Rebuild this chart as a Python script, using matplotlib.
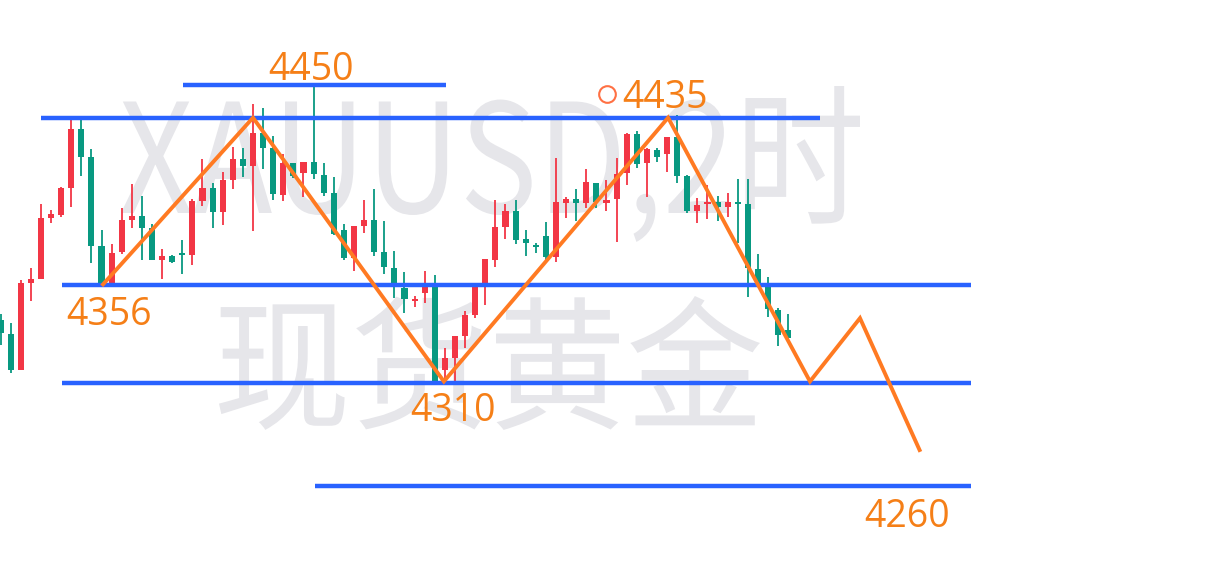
import matplotlib
matplotlib.use("Agg")
import matplotlib.pyplot as plt
import numpy as np
from matplotlib.textpath import TextPath
from matplotlib.font_manager import FontProperties
from matplotlib.patches import PathPatch
from matplotlib.transforms import Affine2D

# ---- data ----
opens = [4338.6, 4332.0, 4314.9, 4356.2, 4358.1, 4387.0, 4388.4, 4401.2, 4429.1, 4415.9,
         4373.7, 4356.2, 4370.9, 4386.0, 4387.9, 4382.2, 4367.1, 4369.0, 4370.4, 4369.4,
         4395.0, 4401.2, 4389.8, 4405.0, 4414.9, 4411.6, 4427.3, 4420.1, 4397.9, 4413.0,
         4408.3, 4413.5, 4407.3, 4398.8, 4381.3, 4368.0, 4383.2, 4386.0, 4370.9, 4363.3,
         4353.8, 4347.6, 4351.4, 4354.3, 4314.9, 4320.6, 4331.1, 4341.0, 4355.7, 4367.1,
         4382.7, 4390.3, 4377.0, 4374.2, 4378.4, 4368.5, 4394.1, 4396.0, 4394.1, 4403.6,
         4394.1, 4396.0, 4408.3, 4426.8, 4413.0, 4419.2, 4417.3, 4425.4, 4406.9, 4390.3,
         4393.6, 4394.6, 4392.2, 4394.6, 4393.6, 4362.8, 4354.3, 4343.4, 4333.9]
highs = [4341.5, 4337.2, 4357.6, 4363.3, 4393.6, 4390.8, 4401.7, 4433.4, 4433.4, 4419.7,
         4381.3, 4374.6, 4391.7, 4403.1, 4397.4, 4384.1, 4372.3, 4369.4, 4376.5, 4396.0,
         4414.9, 4403.6, 4408.8, 4420.6, 4420.1, 4441.0, 4439.1, 4425.8, 4417.3, 4413.0,
         4413.5, 4449.5, 4413.0, 4406.4, 4384.1, 4383.2, 4395.5, 4400.7, 4385.5, 4371.3,
         4361.4, 4350.0, 4361.9, 4360.0, 4325.4, 4331.1, 4342.9, 4354.7, 4367.5, 4395.5,
         4393.6, 4395.5, 4381.3, 4375.1, 4385.1, 4415.4, 4396.9, 4400.7, 4410.2, 4403.6,
         4405.0, 4415.4, 4427.3, 4428.2, 4420.1, 4420.1, 4425.4, 4435.8, 4407.3, 4396.4,
         4402.6, 4397.4, 4398.8, 4405.5, 4405.5, 4369.9, 4359.0, 4344.3, 4341.5]
lows = [4326.8, 4313.5, 4314.9, 4347.6, 4358.1, 4384.6, 4387.4, 4392.2, 4406.9, 4365.6,
        4356.2, 4356.2, 4369.9, 4382.2, 4367.1, 4367.1, 4358.1, 4365.6, 4360.4, 4364.7,
        4392.7, 4382.2, 4383.6, 4400.7, 4406.4, 4380.8, 4410.2, 4395.5, 4395.0, 4405.9,
        4396.9, 4405.5, 4397.4, 4378.9, 4367.1, 4361.9, 4379.9, 4369.0, 4360.4, 4349.1,
        4341.9, 4344.8, 4346.7, 4309.2, 4308.8, 4308.8, 4325.4, 4339.6, 4345.7, 4363.7,
        4377.0, 4374.6, 4369.0, 4370.4, 4367.1, 4366.1, 4387.0, 4385.5, 4391.7, 4391.7,
        4390.3, 4375.6, 4402.6, 4410.7, 4396.9, 4413.5, 4408.8, 4403.6, 4389.3, 4384.6,
        4386.5, 4385.5, 4387.4, 4375.1, 4349.5, 4355.7, 4340.1, 4326.3, 4329.6]
closes = [4332.5, 4314.9, 4356.2, 4358.1, 4387.0, 4388.9, 4401.2, 4429.1, 4415.9, 4373.7,
          4356.2, 4370.4, 4386.0, 4387.9, 4382.2, 4367.1, 4369.0, 4366.1, 4369.4, 4395.0,
          4401.2, 4389.8, 4405.0, 4414.9, 4411.6, 4427.3, 4420.1, 4398.3, 4413.0, 4406.9,
          4413.5, 4407.8, 4398.8, 4379.4, 4368.0, 4383.2, 4386.0, 4370.9, 4363.7, 4354.3,
          4348.6, 4348.6, 4354.3, 4309.2, 4320.6, 4331.1, 4341.0, 4354.3, 4367.5, 4382.7,
          4390.3, 4376.5, 4375.1, 4373.2, 4368.5, 4394.6, 4396.0, 4394.1, 4404.0, 4394.6,
          4395.5, 4407.8, 4426.8, 4412.6, 4419.7, 4415.9, 4425.4, 4406.9, 4390.3, 4393.1,
          4394.6, 4392.2, 4394.6, 4393.6, 4363.3, 4355.7, 4343.8, 4331.5, 4330.1]
# bar is "up" (red) when the chart drew it red
up_flags = [0, 0, 1, 1, 1, 1, 1, 1, 0, 0,
            0, 1, 1, 1, 0, 0, 1, 0, 0, 1,
            1, 0, 1, 1, 0, 1, 0, 0, 1, 0,
            1, 0, 0, 0, 0, 1, 1, 0, 0, 0,
            0, 1, 1, 0, 1, 1, 1, 1, 1, 1,
            1, 0, 0, 0, 0, 1, 1, 0, 1, 0,
            1, 1, 1, 0, 1, 0, 1, 0, 0, 1,
            1, 0, 1, 0, 0, 0, 0, 0, 0]

level_prices = [4450.0, 4434.5, 4355.3, 4308.9, 4260.0]
level_starts = [18.1, 4.0, 6.1, 6.1, 31.1]
level_ends = [44.1, 81.1, 96.1, 96.1, 96.1]

zig_x = [10.15, 25.0, 43.9, 66.1, 80.15, 85.1, 91.0]
zig_y = [4355.5, 4434.5, 4309.5, 4434.5, 4309.5, 4339.5, 4277.0]

label_texts = ["4450", "4435", "4356", "4310", "4260"]
watermark_lines = ["XAUUSD,2时", "现货黄金"]

# ---- style ----
RED = "#f23645"
GREEN = "#089981"
BLUE = "#2962ff"
ORANGE = "#f57f17"
LINE_ORANGE = "#ff7a22"
WM = "#e6e6ea"

W, H = 1216, 586
fig = plt.figure(figsize=(W / 100, H / 100), dpi=100)
ax = fig.add_axes([0, 0, 1, 1])
ax.set_xlim(-0.05, 120.35)
ax.set_ylim(4212.56, 4490.28)
ax.axis("off")

# watermark text, fitted into a box given in pixels from the top-left
wm_font = FontProperties(family="Noto Sans CJK SC", weight="light")


def watermark(s, x0, x1, top, base):
    tp = TextPath((0, 0), s, size=100, prop=wm_font)
    ext = tp.get_extents()
    sx = (x1 - x0) / ext.width
    sy = (base - top) / ext.y1
    tr = (Affine2D().translate(-ext.x0, 0).scale(sx, sy)
          .translate(x0, H - base).scale(1 / W, 1 / H) + fig.transFigure)
    ax.add_patch(PathPatch(tp, transform=tr, facecolor=WM, edgecolor="none",
                           zorder=0, clip_on=False))


watermark(watermark_lines[0], 121, 860, 86, 213)
watermark(watermark_lines[1], 219, 760, 296, 418)

# candles
idx = np.arange(len(opens))
o = np.array(opens); c = np.array(closes); h = np.array(highs); l = np.array(lows)
cols = [RED if u else GREEN for u in up_flags]
ax.vlines(idx, l, h, colors=cols, linewidth=1.3, zorder=2)
bottoms = np.minimum(o, c)
heights = np.maximum(np.abs(c - o), 0.8)
ax.bar(idx, heights, bottom=bottoms, width=0.6, color=cols, linewidth=0, zorder=3)

# horizontal levels
for yv, x0, x1 in zip(level_prices, level_starts, level_ends):
    ax.plot([x0, x1], [yv, yv], color=BLUE, linewidth=3.2, solid_capstyle="butt", zorder=4)

# zigzag
ax.plot(zig_x, zig_y, color=LINE_ORANGE, linewidth=2.8, solid_joinstyle="miter", zorder=5)

fnum = dict(fontsize=27, color=ORANGE, family=["Open Sans", "DejaVu Sans"], zorder=6,
            ha="center", va="baseline")
ax.text(30.74, 4452.4, label_texts[0], **fnum)
ax.text(65.8, 4439.1, label_texts[1], **fnum)
ax.plot([60.05], [4445.6], marker="o", markersize=12, markerfacecolor="none",
        markeredgecolor="#ff7043", markeredgewidth=1.5, zorder=6)
ax.text(10.74, 4336.3, label_texts[2], **fnum)
ax.text(44.8, 4290.8, label_texts[3], **fnum)
ax.text(89.75, 4240.5, label_texts[4], **fnum)

fig.savefig("out.png", dpi=100, facecolor="white")
